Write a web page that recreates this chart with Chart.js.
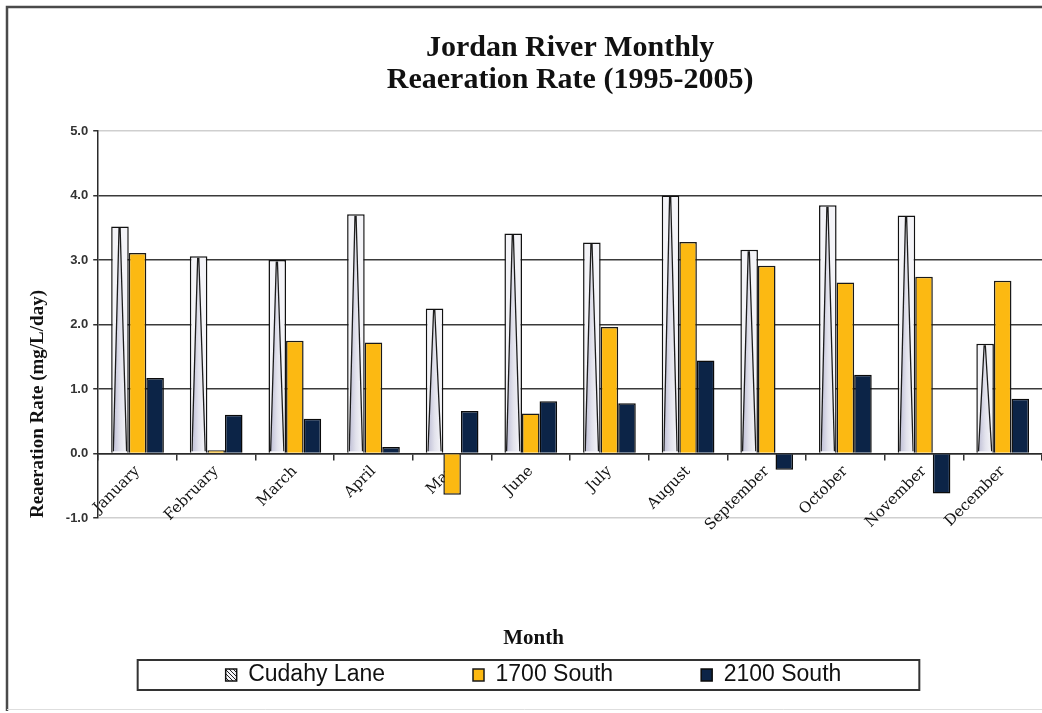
<!DOCTYPE html>
<html>
<head>
<meta charset="utf-8">
<title>Jordan River Monthly Reaeration Rate</title>
<script src="https://cdn.jsdelivr.net/npm/chart.js@4.4.1/dist/chart.umd.min.js"></script>
<style>
  html, body { margin: 0; padding: 0; background: #fff; overflow: hidden; }
  #wrap { width: 1042px; height: 713px; position: relative; }
</style>
</head>
<body>
<div id="wrap"><canvas id="chart"></canvas></div>
<script>
const months = ['January', 'February', 'March', 'April', 'May', 'June',
  'July', 'August', 'September', 'October', 'November', 'December'];

// mg/L/day, monthly means 1995-2005
const cudahyLane = [3.52, 3.06, 3.00, 3.71, 2.25, 3.41, 3.27, 4.00, 3.16, 3.85, 3.69, 1.70];
const south1700 = [3.11, 0.05, 1.75, 1.72, -0.64, 0.62, 1.96, 3.28, 2.91, 2.65, 2.74, 2.68];
const south2100 = [1.17, 0.60, 0.54, 0.10, 0.66, 0.81, 0.78, 1.44, -0.25, 1.22, -0.62, 0.85];

const yTicks = [-1, 0, 1, 2, 3, 4, 5];

const canvas = document.getElementById('chart');
const ctx2d = canvas.getContext('2d');

// little hatch tile for the Cudahy Lane legend swatch
const tile = document.createElement('canvas');
tile.width = 4; tile.height = 4;
const tctx = tile.getContext('2d');
tctx.fillStyle = '#f4f4f8';
tctx.fillRect(0, 0, 4, 4);
tctx.strokeStyle = '#222';
tctx.lineWidth = 1;
tctx.beginPath();
tctx.moveTo(0, 0); tctx.lineTo(4, 4);
tctx.stroke();
const hatch = ctx2d.createPattern(tile, 'repeat');

// outer frame of the figure
const framePlugin = {
  id: 'frame',
  beforeDraw(chart) {
    const { ctx, width, height } = chart;
    ctx.save();
    ctx.fillStyle = '#fff';
    ctx.fillRect(0, 0, width, height);
    ctx.strokeStyle = '#4a4a4a';
    ctx.lineWidth = 2.5;
    ctx.beginPath();
    ctx.moveTo(7, height - 2);
    ctx.lineTo(7, 7);
    ctx.lineTo(width, 7);
    ctx.stroke();
    ctx.strokeStyle = '#dedede';
    ctx.lineWidth = 1;
    ctx.beginPath();
    ctx.moveTo(7, height - 3.5);
    ctx.lineTo(width, height - 3.5);
    ctx.stroke();
    ctx.restore();
  }
};

// twisted-ribbon shading on the Cudahy Lane bars
const ribbonPlugin = {
  id: 'ribbon',
  afterDatasetDraw(chart, args) {
    if (args.index !== 0) return;
    const ctx = chart.ctx;
    args.meta.data.forEach(bar => {
      const { x, y, base, width } = bar.getProps(['x', 'y', 'base', 'width'], true);
      const l = x - width / 2, r = x + width / 2, w = r - l;
      const t = Math.min(y, base), b = Math.max(y, base);
      const apex = l + w * 0.45;
      ctx.save();
      ctx.beginPath();
      ctx.rect(l + 1.5, t + 1.5, w - 3, b - t - 3);
      ctx.clip();
      const g = ctx.createLinearGradient(l, 0, r, 0);
      g.addColorStop(0, '#b4b4cf');
      g.addColorStop(0.5, '#e2e2ec');
      g.addColorStop(1, '#fbfbfd');
      ctx.fillStyle = g;
      ctx.beginPath();
      ctx.moveTo(apex, t);
      ctx.lineTo(l + w * 0.12, b);
      ctx.lineTo(l + w * 0.88, b);
      ctx.closePath();
      ctx.fill();
      ctx.strokeStyle = '#1c1c1c';
      ctx.lineWidth = 1.3;
      ctx.beginPath();
      ctx.moveTo(apex, t);
      ctx.lineTo(l + w * 0.12, b);
      ctx.moveTo(apex + 1, t);
      ctx.lineTo(l + w * 0.88, b);
      ctx.stroke();
      ctx.restore();
    });
  }
};

// border round the legend entries
const legendBoxPlugin = {
  id: 'legendBox',
  afterDraw(chart) {
    const lg = chart.legend;
    if (!lg || !lg.legendHitBoxes || !lg.legendHitBoxes.length) return;
    const hb = lg.legendHitBoxes;
    const first = hb[0], last = hb[hb.length - 1];
    const ctx = chart.ctx;
    ctx.save();
    ctx.strokeStyle = '#333';
    ctx.lineWidth = 2;
    ctx.strokeRect(first.left - 88, first.top - 3.5, last.left + last.width + 78 - (first.left - 88), first.height + 7);
    ctx.restore();
  }
};

new Chart(canvas, {
  type: 'bar',
  data: {
    labels: months,
    datasets: [
      { label: 'Cudahy Lane', data: cudahyLane, backgroundColor: '#f4f4f8', borderColor: '#111', borderWidth: 1.5 },
      { label: '1700 South', data: south1700, backgroundColor: '#fcb912', borderColor: '#1a1a1a', borderWidth: 1.5 },
      { label: '2100 South', data: south2100, backgroundColor: '#0c2447', borderColor: '#0a0a0a', borderWidth: 1.5 }
    ]
  },
  options: {
    responsive: true,
    maintainAspectRatio: false,
    animation: false,
    devicePixelRatio: 1,
    datasets: { bar: { categoryPercentage: 0.67, barPercentage: 1.0 } },
    layout: { padding: { top: 8, left: 25, right: 0, bottom: 16.5 } },
    plugins: {
      tooltip: { enabled: false },
      title: {
        display: true,
        fullSize: false,
        text: ['Jordan River Monthly', 'Reaeration Rate (1995-2005)'],
        color: '#111',
        font: { family: 'Liberation Serif', size: 30, weight: 'bold', lineHeight: 1.08 },
        padding: { top: 24, bottom: 34.2 }
      },
      legend: {
        position: 'bottom',
        labels: {
          padding: 88,
          boxWidth: 11,
          boxHeight: 12,
          color: '#111',
          font: { family: 'Liberation Sans', size: 23 },
          generateLabels(chart) {
            const items = Chart.defaults.plugins.legend.labels.generateLabels(chart);
            items[0].fillStyle = hatch;
            return items;
          }
        },
        title: {
          display: true,
          text: 'Month',
          color: '#111',
          font: { family: 'Liberation Serif', size: 21, weight: 'bold', lineHeight: 1.2 },
          padding: { top: 110, bottom: -77.7 }
        }
      }
    },
    scales: {
      x: {
        position: { y: 0 },
        grid: { drawOnChartArea: false, offset: true, tickLength: 6, color: '#333', lineWidth: 1.5 },
        border: { color: '#2a2a2a', width: 1.5 },
        ticks: {
          minRotation: 45, maxRotation: 45, padding: 3,
          color: '#111',
          font: { family: 'DejaVu Serif', size: 15 }
        }
      },
      y: {
        min: -1,
        max: 5,
        afterBuildTicks(scale) { scale.ticks = yTicks.map(v => ({ value: v })); },
        ticks: {
          callback: v => Number(v).toFixed(1),
          color: '#333',
          padding: 5,
          font: { family: 'Liberation Sans', size: 13, weight: 'bold' }
        },
        grid: {
          color: c => (c.tick && (c.tick.value === 5 || c.tick.value === -1)) ? '#cfcfcf' : '#3a3a3a',
          lineWidth: 1.5,
          tickLength: 5,
          tickColor: '#333'
        },
        border: { color: '#2a2a2a', width: 1.5 },
        title: {
          display: true,
          align: 'start',
          text: 'Reaeration Rate (mg/L/day)',
          color: '#111',
          font: { family: 'Liberation Serif', size: 19, weight: 'bold', lineHeight: 1.2 },
          padding: { top: 2, bottom: 11 }
        }
      }
    }
  },
  plugins: [framePlugin, ribbonPlugin, legendBoxPlugin]
});
</script>
</body>
</html>
